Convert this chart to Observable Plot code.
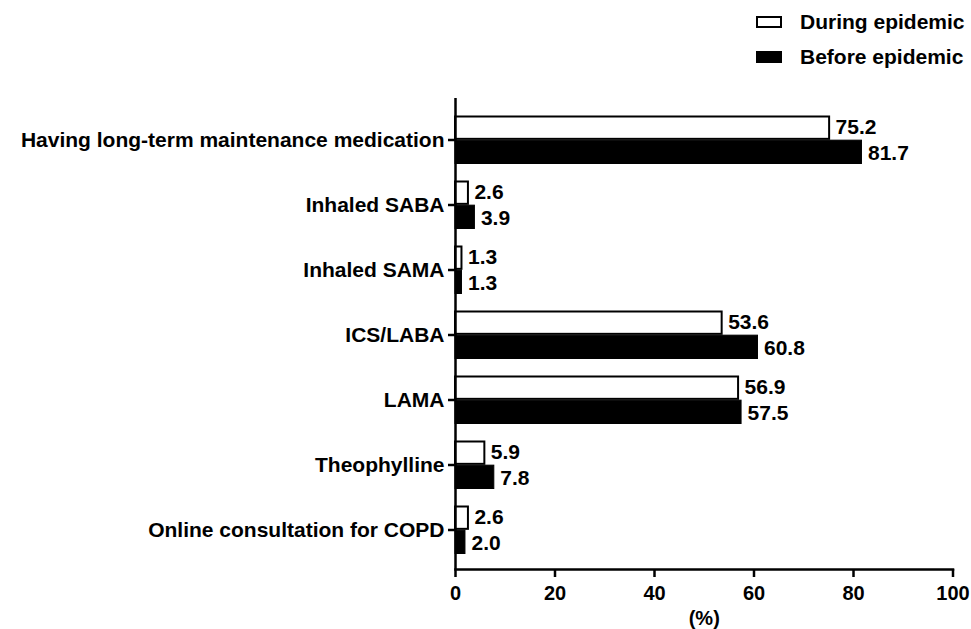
<!DOCTYPE html>
<html>
<head>
<meta charset="utf-8">
<script src="https://cdn.jsdelivr.net/npm/d3@7"></script>
<script src="https://cdn.jsdelivr.net/npm/@observablehq/plot@0.6"></script>
<style>
  html, body { margin: 0; padding: 0; background: #fff; }
  body { width: 971px; height: 629px; overflow: hidden; font-family: "Liberation Sans", Arial, sans-serif; }
  #legend { position: relative; width: 971px; height: 80px; }
  .lg-row { position: absolute; left: 756px; display: flex; align-items: center; font-weight: bold; font-size: 21px; color: #000; }
  .lg-box { width: 22px; height: 8px; border: 2px solid #000; margin-right: 18px; }
  #chart svg text { font-weight: bold; }
</style>
</head>
<body>
<div id="legend"></div>
<div id="chart"></div>
<script>
const categories = [
  "Having long-term maintenance medication",
  "Inhaled SABA",
  "Inhaled SAMA",
  "ICS/LABA",
  "LAMA",
  "Theophylline",
  "Online consultation for COPD"
];
const seriesNames = ["During epidemic", "Before epidemic"];
const seriesFills = ["#ffffff", "#000000"];
const duringValues = [75.2, 2.6, 1.3, 53.6, 56.9, 5.9, 2.6];
const beforeValues = [81.7, 3.9, 1.3, 60.8, 57.5, 7.8, 2.0];
const xTicks = [0, 20, 40, 60, 80, 100];

const during = categories.map((c, i) => ({category: c, value: duringValues[i]}));
const before = categories.map((c, i) => ({category: c, value: beforeValues[i]}));

// Legend
const legend = document.getElementById("legend");
seriesNames.forEach((name, i) => {
  const row = document.createElement("div");
  row.className = "lg-row";
  row.style.top = (i === 0 ? 10 : 45) + "px";
  const box = document.createElement("div");
  box.className = "lg-box";
  box.style.background = seriesFills[i];
  const label = document.createElement("span");
  label.textContent = name;
  row.appendChild(box);
  row.appendChild(label);
  legend.appendChild(row);
});

const height = 549, marginTop = 18, marginBottom = 60;
const step = 65.33;
const bandTop = 26.33, bandBottom = bandTop + step * categories.length;
const outerInset = 8.5;
const half = step / 2;
const fmt = d3.format(".1f");

const chart = Plot.plot({
  width: 971,
  height,
  marginLeft: 455,
  marginRight: 18.5,
  marginTop,
  marginBottom,
  style: {fontFamily: "'Liberation Sans', Arial, sans-serif", fontSize: "20px", color: "#000", background: "#fff"},
  x: {domain: [0, 100]},
  y: {domain: categories, range: [bandTop, bandBottom], padding: 0},
  marks: [
    Plot.barX(during, {x: "value", y: "category", fill: seriesFills[0], stroke: "#000", strokeWidth: 2, insetTop: outerInset + 1, insetBottom: half + 0.5}),
    Plot.barX(before, {x: "value", y: "category", fill: seriesFills[1], stroke: "#000", strokeWidth: 1, insetTop: half + 0.5, insetBottom: outerInset}),
    Plot.text(during, {x: "value", y: "category", text: d => fmt(d.value), dx: 6, dy: -12.5, textAnchor: "start", fontSize: 21, fontWeight: "bold", fill: "#000"}),
    Plot.text(before, {x: "value", y: "category", text: d => fmt(d.value), dx: 6, dy: 13, textAnchor: "start", fontSize: 21, fontWeight: "bold", fill: "#000"}),
    Plot.ruleX([0], {stroke: "#000", strokeWidth: 2.5}),
    Plot.frame({anchor: "bottom", stroke: "#000", strokeWidth: 2.5}),
    Plot.axisX({ticks: xTicks, tickSize: 8, tickPadding: 8, strokeWidth: 2.5, fontSize: 20, fontWeight: "bold", label: "(%)", labelAnchor: "center", labelArrow: "none", labelOffset: 55}),
    Plot.axisY({tickSize: 7, tickPadding: 4, strokeWidth: 2.5, fontSize: 21, fontWeight: "bold", label: null})
  ]
});
document.getElementById("chart").appendChild(chart);
</script>
</body>
</html>
